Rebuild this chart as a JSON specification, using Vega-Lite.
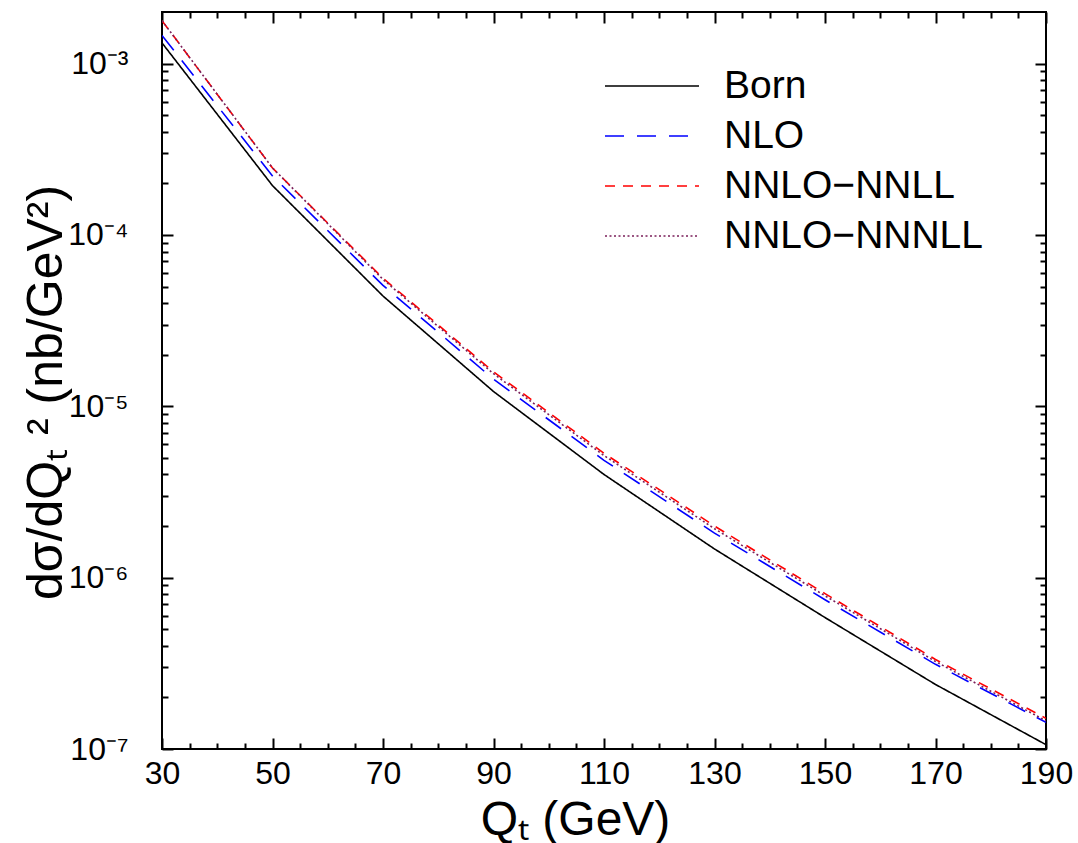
{
  "$schema": "https://vega.github.io/schema/vega-lite/v6.json",
  "width": 884,
  "height": 737,
  "autosize": {"type": "none"},
  "padding": {"left": 162, "top": 12, "right": 32, "bottom": 94},
  "background": "white",
  "config": {
    "view": {"stroke": "black", "strokeWidth": 2},
    "font": "Liberation Sans",
    "axis": {"domain": false, "grid": false, "tickColor": "black", "tickWidth": 2, "labelColor": "black", "titleColor": "black", "labelFont": "Liberation Sans", "titleFont": "Liberation Sans", "titleFontWeight": "normal"}
  },
  "data": {"values": [
    {"q": 30, "v": 1.32e-3, "s": "Born"},
    {"q": 50, "v": 1.94e-4, "s": "Born"},
    {"q": 70, "v": 4.4e-5, "s": "Born"},
    {"q": 90, "v": 1.22e-5, "s": "Born"},
    {"q": 110, "v": 4.0e-6, "s": "Born"},
    {"q": 130, "v": 1.47e-6, "s": "Born"},
    {"q": 150, "v": 5.85e-7, "s": "Born"},
    {"q": 170, "v": 2.38e-7, "s": "Born"},
    {"q": 190, "v": 1.06e-7, "s": "Born"},
    {"q": 30, "v": 1.46e-3, "s": "NLO"},
    {"q": 50, "v": 2.21e-4, "s": "NLO"},
    {"q": 70, "v": 5.08e-5, "s": "NLO"},
    {"q": 90, "v": 1.44e-5, "s": "NLO"},
    {"q": 110, "v": 4.84e-6, "s": "NLO"},
    {"q": 130, "v": 1.82e-6, "s": "NLO"},
    {"q": 150, "v": 7.43e-7, "s": "NLO"},
    {"q": 170, "v": 3.12e-7, "s": "NLO"},
    {"q": 190, "v": 1.43e-7, "s": "NLO"},
    {"q": 30, "v": 1.78e-3, "s": "NNLO−NNLL"},
    {"q": 50, "v": 2.46e-4, "s": "NNLO−NNLL"},
    {"q": 70, "v": 5.59e-5, "s": "NNLO−NNLL"},
    {"q": 90, "v": 1.59e-5, "s": "NNLO−NNLL"},
    {"q": 110, "v": 5.32e-6, "s": "NNLO−NNLL"},
    {"q": 130, "v": 2.0e-6, "s": "NNLO−NNLL"},
    {"q": 150, "v": 8.07e-7, "s": "NNLO−NNLL"},
    {"q": 170, "v": 3.33e-7, "s": "NNLO−NNLL"},
    {"q": 190, "v": 1.51e-7, "s": "NNLO−NNLL"},
    {"q": 30, "v": 1.78e-3, "s": "NNLO−NNNLL"},
    {"q": 50, "v": 2.46e-4, "s": "NNLO−NNNLL"},
    {"q": 70, "v": 5.5e-5, "s": "NNLO−NNNLL"},
    {"q": 90, "v": 1.55e-5, "s": "NNLO−NNNLL"},
    {"q": 110, "v": 5.16e-6, "s": "NNLO−NNNLL"},
    {"q": 130, "v": 1.93e-6, "s": "NNLO−NNNLL"},
    {"q": 150, "v": 7.84e-7, "s": "NNLO−NNNLL"},
    {"q": 170, "v": 3.24e-7, "s": "NNLO−NNNLL"},
    {"q": 190, "v": 1.46e-7, "s": "NNLO−NNNLL"}
  ]},
  "layer": [
    {
      "mark": {"type": "line", "strokeWidth": 1.6, "clip": true},
      "encoding": {
        "x": {"field": "q", "type": "quantitative", "scale": {"domain": [30, 190], "nice": false, "zero": false},
          "axis": {"orient": "bottom", "values": [30, 50, 70, 90, 110, 130, 150, 170, 190], "ticks": false, "labelFontSize": 32, "labelPadding": 9, "labelFlush": false, "labelOverlap": false, "title": "Qₜ (GeV)", "titleFontSize": 48, "titleX": 413, "titleY": 85, "titleBaseline": "alphabetic", "titleAlign": "center"}},
        "y": {"field": "v", "type": "quantitative", "scale": {"type": "log", "domain": [1e-7, 2e-3], "nice": false},
          "axis": {"orient": "left", "values": [1e-7, 1e-6, 1e-5, 1e-4, 1e-3], "ticks": false, "labelFontSize": 32, "labelPadding": 34, "labelOverlap": false, "labelFlush": false,
            "labelExpr": "round(log(datum.value)/LN10) == -3 ? '10⁻³' : round(log(datum.value)/LN10) == -4 ? '10⁻⁴' : round(log(datum.value)/LN10) == -5 ? '10⁻⁵' : round(log(datum.value)/LN10) == -6 ? '10⁻⁶' : '10⁻⁷'",
            "title": "dσ/dQₜ ² (nb/GeV²)", "titleFontSize": 50, "titleX": -101, "titleY": 380, "titleAngle": -90, "titleBaseline": "alphabetic", "titleAlign": "center"}},
        "color": {"field": "s", "type": "nominal",
          "scale": {"domain": ["Born", "NLO", "NNLO−NNLL", "NNLO−NNNLL"], "range": ["#000000", "#0000ff", "#ff0000", "#7b1f5a"]},
          "legend": {"title": null, "orient": "none", "legendX": 442, "legendY": 55, "padding": 0, "symbolType": "stroke", "symbolSize": 8836, "symbolStrokeWidth": 1.6, "labelFontSize": 39, "labelFont": "Liberation Sans", "labelOffset": 24, "labelLimit": 500, "clipHeight": 38, "rowPadding": 11, "labelColor": "black"}},
        "strokeDash": {"field": "s", "type": "nominal",
          "scale": {"domain": ["Born", "NLO", "NNLO−NNLL", "NNLO−NNNLL"], "range": [[1, 0], [19, 13], [10, 8], [2, 2.5]]},
          "legend": {"title": null, "orient": "none", "legendX": 442, "legendY": 55, "padding": 0, "symbolType": "stroke", "symbolSize": 8836, "symbolStrokeWidth": 1.6, "labelFontSize": 39, "labelFont": "Liberation Sans", "labelOffset": 24, "labelLimit": 500, "clipHeight": 38, "rowPadding": 11, "labelColor": "black"}}
      }
    },
    {
      "mark": {"type": "line", "opacity": 0},
      "encoding": {
        "detail": {"field": "s"},
        "x": {"field": "q", "type": "quantitative", "scale": {"domain": [30, 190], "nice": false, "zero": false},
          "axis": {"orient": "bottom", "values": [30, 50, 70, 90, 110, 130, 150, 170, 190], "labels": false, "tickSize": -11, "title": null}},
        "y": {"field": "v", "type": "quantitative", "scale": {"type": "log", "domain": [1e-7, 2e-3], "nice": false},
          "axis": {"orient": "left", "values": [1e-7, 1e-6, 1e-5, 1e-4, 1e-3], "labels": false, "tickSize": -11, "title": null}}
      }
    },
    {
      "mark": {"type": "line", "opacity": 0},
      "encoding": {
        "detail": {"field": "s"},
        "x": {"field": "q", "type": "quantitative", "scale": {"domain": [30, 190], "nice": false, "zero": false},
          "axis": {"orient": "bottom", "values": [35, 40, 45, 55, 60, 65, 75, 80, 85, 95, 100, 105, 115, 120, 125, 135, 140, 145, 155, 160, 165, 175, 180, 185], "labels": false, "tickSize": -6, "title": null}},
        "y": {"field": "v", "type": "quantitative", "scale": {"type": "log", "domain": [1e-7, 2e-3], "nice": false},
          "axis": {"orient": "left", "values": [2e-7, 3e-7, 4e-7, 5e-7, 6e-7, 7e-7, 8e-7, 9e-7, 2e-6, 3e-6, 4e-6, 5e-6, 6e-6, 7e-6, 8e-6, 9e-6, 2e-5, 3e-5, 4e-5, 5e-5, 6e-5, 7e-5, 8e-5, 9e-5, 2e-4, 3e-4, 4e-4, 5e-4, 6e-4, 7e-4, 8e-4, 9e-4], "labels": false, "tickSize": -6, "title": null}}
      }
    },
    {
      "mark": {"type": "line", "opacity": 0},
      "encoding": {
        "detail": {"field": "s"},
        "x": {"field": "q", "type": "quantitative", "scale": {"domain": [30, 190], "nice": false, "zero": false},
          "axis": {"orient": "top", "values": [30, 50, 70, 90, 110, 130, 150, 170, 190], "labels": false, "tickSize": -11, "title": null}},
        "y": {"field": "v", "type": "quantitative", "scale": {"type": "log", "domain": [1e-7, 2e-3], "nice": false},
          "axis": {"orient": "right", "values": [1e-7, 1e-6, 1e-5, 1e-4, 1e-3], "labels": false, "tickSize": -11, "title": null}}
      }
    },
    {
      "mark": {"type": "line", "opacity": 0},
      "encoding": {
        "detail": {"field": "s"},
        "x": {"field": "q", "type": "quantitative", "scale": {"domain": [30, 190], "nice": false, "zero": false},
          "axis": {"orient": "top", "values": [35, 40, 45, 55, 60, 65, 75, 80, 85, 95, 100, 105, 115, 120, 125, 135, 140, 145, 155, 160, 165, 175, 180, 185], "labels": false, "tickSize": -6, "title": null}},
        "y": {"field": "v", "type": "quantitative", "scale": {"type": "log", "domain": [1e-7, 2e-3], "nice": false},
          "axis": {"orient": "right", "values": [2e-7, 3e-7, 4e-7, 5e-7, 6e-7, 7e-7, 8e-7, 9e-7, 2e-6, 3e-6, 4e-6, 5e-6, 6e-6, 7e-6, 8e-6, 9e-6, 2e-5, 3e-5, 4e-5, 5e-5, 6e-5, 7e-5, 8e-5, 9e-5, 2e-4, 3e-4, 4e-4, 5e-4, 6e-4, 7e-4, 8e-4, 9e-4], "labels": false, "tickSize": -6, "title": null}}
      }
    }
  ],
  "resolve": {"axis": {"x": "independent", "y": "independent"}}
}
